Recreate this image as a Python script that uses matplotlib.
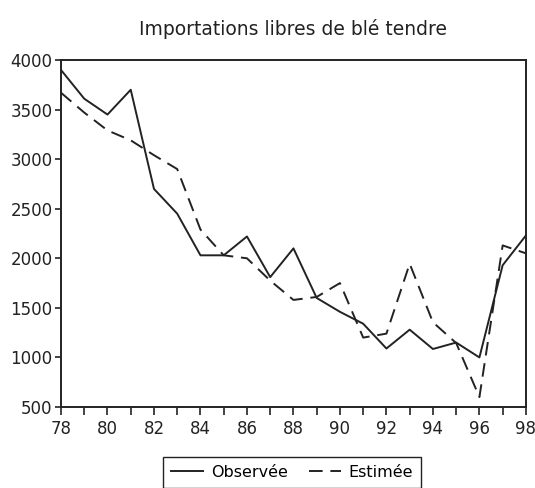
import matplotlib
matplotlib.use("Agg")
import matplotlib.pyplot as plt
from matplotlib.ticker import MultipleLocator

# Importations libres de blé tendre, 1978-1998
annees = list(range(78, 99))
observee = [3900, 3610, 3450, 3700, 2700, 2450, 2030, 2030, 2220, 1810, 2100,
            1600, 1460, 1340, 1090, 1280, 1085, 1150, 1000, 1930, 2230]
estimee = [3670, 3470, 3290, 3190, 3040, 2900, 2290, 2030, 2000, 1775, 1580,
           1610, 1750, 1200, 1240, 1945, 1355, 1145, 600, 2130, 2050]

plt.rcParams["font.family"] = "DejaVu Sans"
ink = "#222222"

fig = plt.figure(figsize=(5.35, 4.88), dpi=100)
ax = fig.add_axes([0.114, 0.166, 0.869, 0.711])

ax.plot(annees, observee, color=ink, lw=1.4, label="Observée")
ax.plot(annees, estimee, color=ink, lw=1.4, linestyle=(0, (7, 4)), label="Estimée")

ax.set_xlim(78, 98)
ax.set_ylim(500, 4000)
ax.xaxis.set_major_locator(MultipleLocator(2))
ax.xaxis.set_minor_locator(MultipleLocator(1))
ax.yaxis.set_major_locator(MultipleLocator(500))
ax.tick_params(axis="both", which="major", labelsize=12, colors=ink, width=1.2)
ax.tick_params(axis="x", which="major", length=6)
ax.tick_params(axis="x", which="minor", length=6, width=1.2, color=ink)
ax.tick_params(axis="y", which="major", length=4, pad=2)
for s in ax.spines.values():
    s.set_linewidth(1.4)
    s.set_color(ink)

ax.set_title("Importations libres de blé tendre", fontsize=13.5, color=ink, pad=18)

fig.legend(loc="upper center", bbox_to_anchor=(0.546, 0.064), ncol=2,
           fontsize=11.5, frameon=True, fancybox=False, edgecolor=ink,
           handlelength=2.0, columnspacing=1.3, handletextpad=0.5,
           borderpad=0.5, borderaxespad=0, framealpha=1)

fig.savefig("out.png", dpi=100)
